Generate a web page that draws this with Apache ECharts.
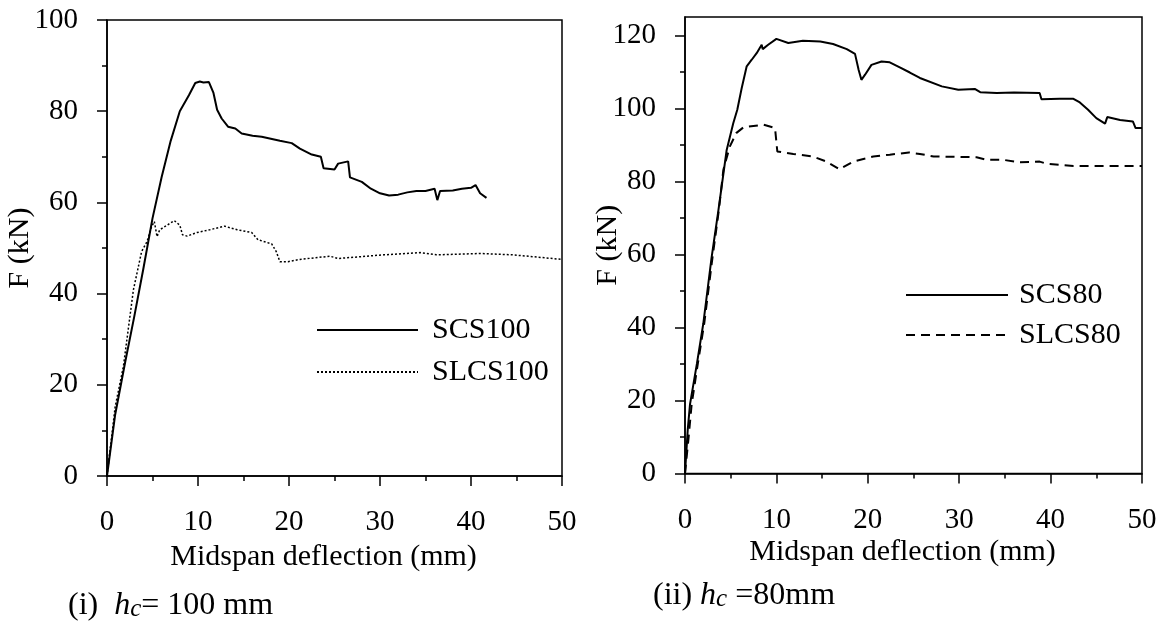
<!DOCTYPE html>
<html>
<head>
<meta charset="utf-8">
<title>F vs midspan deflection</title>
<script src="https://cdn.jsdelivr.net/npm/echarts@6/dist/echarts.min.js"></script>
<style>
  html, body { margin: 0; padding: 0; background: #fff; }
  #chart { width: 1168px; height: 626px; }
</style>
</head>
<body>
<div id="chart"></div>
<script>
// tick values
var xTicks = [0, 10, 20, 30, 40, 50];
var yTicksLeft = [0, 20, 40, 60, 80, 100];
var yMinorLeft = [10, 30, 50, 70, 90];
var yTicksRight = [0, 20, 40, 60, 80, 100, 120];
var yMinorRight = [10, 30, 50, 70, 90, 110];

// (i) hc = 100 mm  [deflection mm, F kN]
var scs100 = [
  [0, 0], [0.9, 13.5], [2, 25], [3, 35], [4, 45.5], [5, 56.5], [6, 65.5], [7, 73.5],
  [8, 80], [9, 83.5], [9.7, 86.2], [10.2, 86.5], [10.6, 86.3], [11.2, 86.4], [11.7, 84],
  [12.1, 80.3], [12.6, 78.4], [13.3, 76.6], [14.1, 76.2], [14.8, 75.1], [16, 74.6],
  [17, 74.4], [19, 73.5], [20.3, 73], [21.2, 71.8], [22.5, 70.5], [23.5, 70], [23.8, 67.5],
  [25, 67.2], [25.4, 68.5], [26.5, 69], [26.7, 65.5], [28, 64.5], [29, 63], [30, 62],
  [31, 61.5], [32, 61.7], [33, 62.2], [34, 62.5], [35, 62.5], [36, 63], [36.3, 60.5],
  [36.6, 62.5], [38, 62.6], [39, 63], [40, 63.2], [40.5, 63.8], [41, 62], [41.7, 61]
];
var slcs100 = [
  [0, 0], [0.9, 15.2], [1.8, 24], [2.9, 40.8], [3.8, 49.2], [4.4, 51.4], [4.9, 54.7],
  [5.2, 55.8], [5.5, 52.5], [5.8, 54], [6.6, 55], [7.4, 56], [8, 55], [8.3, 52.9],
  [8.8, 52.6], [9.9, 53.4], [11.3, 54], [12.9, 54.8], [14.3, 54], [15.9, 53.4],
  [16.6, 51.8], [18.1, 50.9], [18.6, 49.2], [19, 47], [19.9, 47], [21.2, 47.5],
  [24.5, 48.2], [25.4, 47.7], [30.4, 48.5], [34.4, 49], [36.2, 48.5], [41, 48.8],
  [44.6, 48.5], [50, 47.5]
];

// (ii) hc = 80 mm
var scs80 = [
  [0, 0], [0.3, 12], [0.55, 19], [1.3, 30], [2, 41], [2.9, 59], [3.65, 72], [4.56, 88.6],
  [5.28, 95.9], [5.72, 99.6], [6.2, 105.5], [6.75, 111.5], [7.3, 113.3], [7.84, 115.1],
  [8.39, 117.4], [8.5, 116.2], [9.1, 117.4], [10, 119], [11.3, 117.9], [12.9, 118.5],
  [14.8, 118.3], [16.2, 117.6], [17.7, 116.2], [18.6, 114.9], [19, 110.5], [19.3, 107.8],
  [19.7, 109.2], [20.4, 111.9], [21.5, 112.8], [22.4, 112.6], [23.5, 111.2], [24.6, 109.8],
  [25.7, 108.3], [28.1, 106], [29.9, 105.1], [31.7, 105.3], [32.3, 104.4], [34.1, 104.2],
  [36, 104.3], [38.8, 104.2], [39, 102.5], [41, 102.6], [42.5, 102.6], [43.2, 101.6],
  [44.1, 99.6], [45, 97.3], [45.96, 95.8], [46.2, 97.6], [47.6, 96.8], [49, 96.4],
  [49.3, 94.6], [50, 94.6]
];
var slcs80 = [
  [0, 0], [0.4, 10], [0.73, 19], [1.4, 30], [2.1, 41], [3, 59], [3.7, 72], [4.2, 83.2],
  [4.9, 89.5], [5.6, 93.2], [6.4, 94.8], [8.6, 95.5], [9.85, 94.6], [10.1, 88.2],
  [11.85, 87.5], [14, 86.8], [15.5, 85.4], [16.9, 83.3], [18.4, 85.4], [20.6, 86.8],
  [22.4, 87.3], [24.5, 87.9], [25.7, 87.5], [27.2, 86.8], [31.9, 86.6], [33, 85.9],
  [34.8, 85.9], [36.6, 85.2], [38.8, 85.4], [39.6, 84.8], [42.5, 84.2], [50, 84.2]
];

var font = '"Liberation Serif", "Times New Roman", serif';
var txt = { fontFamily: font, fontSize: 30, color: '#000' };
var tickTxt = { fontFamily: font, fontSize: 29, color: '#000' };
var black = { color: '#000', width: 1.5 };

function xAxisCfg(gridIndex, nameGap) {
  return {
    type: 'value', gridIndex: gridIndex, min: 0, max: 50, interval: 10,
    name: 'Midspan deflection (mm)', nameLocation: 'middle', nameGap: nameGap,
    nameMoveOverlap: false,
    nameTextStyle: Object.assign({ padding: [0, 22, 0, 0], lineHeight: 30 }, txt),
    axisLine: { lineStyle: black },
    axisTick: { length: 10, customValues: xTicks, lineStyle: black },
    minorTick: { show: true, splitNumber: 2, length: 5, lineStyle: black },
    axisLabel: Object.assign({ margin: 32, lineHeight: 29, customValues: xTicks }, tickTxt),
    splitLine: { show: false }
  };
}

function yMinorAxis(gridIndex, max, vals) {
  return {
    type: 'value', gridIndex: gridIndex, position: 'left', min: 0, max: max,
    axisLine: { show: false },
    axisTick: { length: 5, customValues: vals, lineStyle: black },
    axisLabel: { show: false },
    splitLine: { show: false }
  };
}

var legendItem = { color: 'rgba(0,0,0,0)', borderColor: 'rgba(0,0,0,0)', borderWidth: 0 };
var captionRich = {
  i: { fontFamily: font, fontSize: 32, fontStyle: 'italic', lineHeight: 32 },
  s: { fontFamily: font, fontSize: 25, fontStyle: 'italic', lineHeight: 17, verticalAlign: 'bottom' }
};

var chart = echarts.init(document.getElementById('chart'));
chart.setOption({
  backgroundColor: '#fff',
  animation: false,
  grid: [
    { left: 107, top: 20, width: 455, height: 456, show: true, borderColor: '#000', borderWidth: 1.5 },
    { left: 685, top: 17, width: 457, height: 456.5, show: true, borderColor: '#000', borderWidth: 1.5 }
  ],
  xAxis: [xAxisCfg(0, 66), xAxisCfg(1, 64)],
  yAxis: [
    {
      type: 'value', gridIndex: 0, min: 0, max: 100, interval: 20,
      name: 'F (kN)', nameLocation: 'middle', nameGap: 72, nameMoveOverlap: false,
      nameTextStyle: Object.assign({ lineHeight: 30 }, txt),
      axisLine: { lineStyle: black },
      axisTick: { length: 10, customValues: yTicksLeft, lineStyle: black },
      axisLabel: Object.assign({ margin: 29, customValues: yTicksLeft }, tickTxt),
      splitLine: { show: false }
    },
    {
      type: 'value', gridIndex: 1, min: 0, max: 125,
      name: 'F (kN)', nameLocation: 'middle', nameGap: 62, nameMoveOverlap: false,
      nameTextStyle: Object.assign({ lineHeight: 30 }, txt),
      axisLine: { lineStyle: black },
      axisTick: { length: 10, customValues: yTicksRight, lineStyle: black },
      axisLabel: Object.assign({ margin: 29, customValues: yTicksRight }, tickTxt),
      splitLine: { show: false }
    },
    yMinorAxis(0, 100, yMinorLeft),
    yMinorAxis(1, 125, yMinorRight)
  ],
  legend: [
    {
      data: ['SCS100', 'SLCS100'], orient: 'vertical', left: 311, top: 310,
      itemWidth: 101, itemHeight: 14, itemGap: 12, itemStyle: legendItem,
      textStyle: Object.assign({ padding: [0, 0, 0, 9], lineHeight: 30 }, txt)
    },
    {
      data: ['SCS80', 'SLCS80'], orient: 'vertical', left: 900, top: 275,
      itemWidth: 102, itemHeight: 14, itemGap: 10, itemStyle: legendItem,
      textStyle: Object.assign({ padding: [0, 0, 0, 6], lineHeight: 30 }, txt)
    }
  ],
  series: [
    { name: 'SCS100', type: 'line', xAxisIndex: 0, yAxisIndex: 0, data: scs100, symbol: 'none',
      lineStyle: { color: '#000', width: 2 }, itemStyle: { color: '#000' } },
    { name: 'SLCS100', type: 'line', xAxisIndex: 0, yAxisIndex: 0, data: slcs100, symbol: 'none',
      lineStyle: { color: '#000', width: 1.5, type: [2, 2] }, itemStyle: { color: '#000' } },
    { name: 'SCS80', type: 'line', xAxisIndex: 1, yAxisIndex: 1, data: scs80, symbol: 'none',
      lineStyle: { color: '#000', width: 2 }, itemStyle: { color: '#000' } },
    { name: 'SLCS80', type: 'line', xAxisIndex: 1, yAxisIndex: 1, data: slcs80, symbol: 'none',
      lineStyle: { color: '#000', width: 2, type: [9, 6] }, itemStyle: { color: '#000' } }
  ],
  graphic: [
    {
      type: 'text', left: 68, top: 590,
      style: { text: '(i)  {i|h}{s|c}= 100 mm', font: '32px ' + font, fill: '#000', rich: captionRich }
    },
    {
      type: 'text', left: 653, top: 580,
      style: { text: '(ii) {i|h}{s|c} =80mm', font: '32px ' + font, fill: '#000', rich: captionRich }
    }
  ]
});
</script>
</body>
</html>
